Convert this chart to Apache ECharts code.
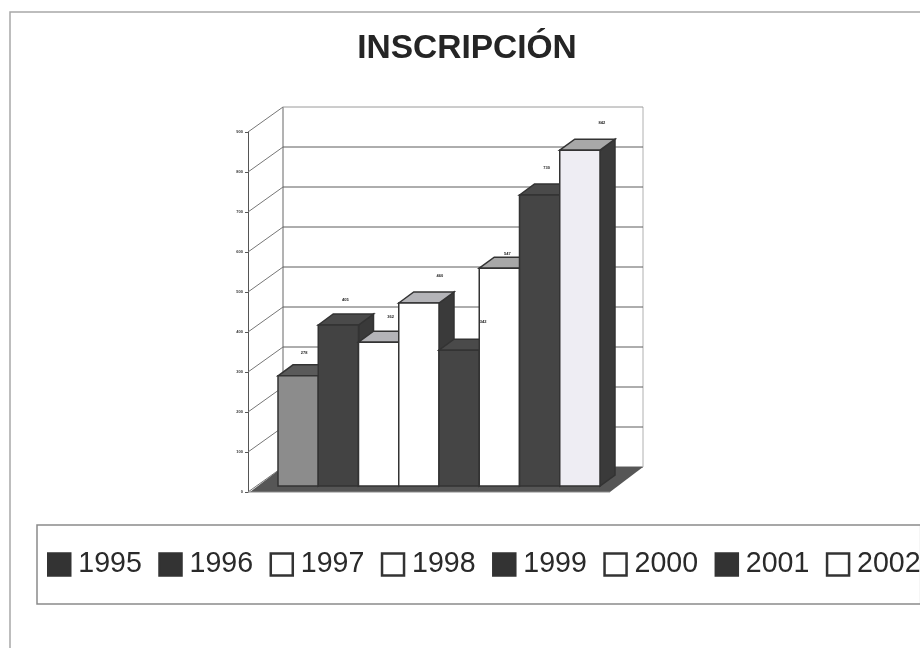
<!DOCTYPE html>
<html>
<head>
<meta charset="utf-8">
<style>html,body{margin:0;padding:0;background:#fff}#c{width:920px;height:648px}</style>
<script src="https://cdn.jsdelivr.net/npm/echarts@6/dist/echarts.min.js"></script>
</head>
<body>
<div id="c"></div>
<script>
const years = ['1995','1996','1997','1998','1999','2000','2001','2002'];
const inscripcion = [278,405,362,460,342,547,730,842];
const yTicks = [0,100,200,300,400,500,600,700,800,900];

const faceColors = ['#8c8c8c','#434343','#ffffff','#ffffff','#454545','#ffffff','#454545','#eeedf3'];
const topColors  = ['#5a5a5a','#4a4a4a','#b4b4b8','#b4b4b8','#4a4a4a','#a8a8a8','#4a4a4a','#a8a8a8'];
const swatchColors = ['#333333','#333333','#ffffff','#ffffff','#333333','#ffffff','#333333','#ffffff'];
const labelNudge = [[6,-23],[7,-25],[12,-25],[21,-27],[24,-28],[8,-14],[7,-27],[22,-27]];

const depth = {dx:15, dy:-11};
const wall = {dx:35, dy:-25, left:30, right:11};
const edge = '#333333';

function renderWall(params, api){
  const cs = params.coordSys;
  const y = api.coord([years[0], api.value(0)])[1];
  const x0 = cs.x - wall.left, x1 = x0 + wall.dx, x2 = cs.x + cs.width + wall.right + wall.dx - 3;
  const line = (a,b,c,d,col) => ({type:'line', shape:{x1:a,y1:b,x2:c,y2:d}, style:{stroke:col||'#5c5c5c', lineWidth:1}, silent:true});
  const kids = [line(x0,y,x1,y+wall.dy,'#777'), line(x1,y+wall.dy,x2,y+wall.dy,api.value(0)===yTicks[yTicks.length-1]?'#9a9a9a':'#5c5c5c')];
  if(api.value(0)===0){
    kids.push(line(x1,y+wall.dy,x1,cs.y+wall.dy,'#666'));
    kids.push(line(x2,y+wall.dy,x2,cs.y+wall.dy,'#b0b0b0'));
    kids.push({type:'polygon', shape:{points:[[x0+2,y],[x1,y+wall.dy],[x2,y+wall.dy],[x2-wall.dx+2,y]]}, style:{fill:'#565656'}, silent:true});
    kids.push(line(x0,y,x2-wall.dx+2,y,'#8a8a8a'));
  }
  return {type:'group', children:kids};
}

function barSeries(i){
  return {
    type:'custom', name:years[i], silent:true, clip:false,
    itemStyle:{color:faceColors[i]},
    encode:{x:0,y:1},
    data:[[years[i], inscripcion[i]]],
    renderItem:function(params, api){
      const w = api.size([1,0])[0];
      const c = api.coord([api.value(0), api.value(1)]);
      const b = api.coord([api.value(0), 0]);
      const x0 = c[0]-w/2, x1 = c[0]+w/2, yt = c[1]-5, yb = b[1]-6;
      const d = depth;
      const st = (fill)=>({fill:fill, stroke:edge, lineWidth:1.5});
      return {type:'group', children:[
        {type:'polygon', shape:{points:[[x1,yt],[x1+d.dx,yt+d.dy],[x1+d.dx,yb+d.dy],[x1,yb]]}, style:st('#3a3a3a')},
        {type:'polygon', shape:{points:[[x0,yt],[x0+d.dx,yt+d.dy],[x1+d.dx,yt+d.dy],[x1,yt]]}, style:st(topColors[i])},
        {type:'rect', shape:{x:x0,y:yt,width:w,height:yb-yt}, style:st(faceColors[i])},
        {type:'text', z2:50, style:{x:c[0]+labelNudge[i][0], y:yt+labelNudge[i][1], text:String(Math.round(api.value(1))), align:'center', verticalAlign:'middle', font:'bold 4px "Liberation Sans"', fill:'#222'}}
      ]};
    }
  };
}

const chart = echarts.init(document.getElementById('c'), null, {renderer:'canvas'});
chart.setOption({
  animation:false,
  backgroundColor:'#ffffff',
  title:{text:'INSCRIPCIÓN', left:467, textAlign:'center', textVerticalAlign:'top', top:32, padding:0,
    textStyle:{fontFamily:'Liberation Sans', fontWeight:'bold', fontSize:33.5, color:'#252525'}},
  graphic:[
    {type:'polyline', shape:{points:[[10,648],[10,12],[920,12]]}, style:{stroke:'#a8a8a8', fill:null, lineWidth:1.5}, silent:true}
  ],
  legend:{
    left:37, top:525, width:1000, padding:[25,0,25,10],
    borderColor:'#8a8a8a', borderWidth:1.5,
    itemWidth:22, itemHeight:22, itemGap:16.4,
    textStyle:{fontFamily:'Liberation Sans', fontSize:28.6, color:'#2a2a2a', padding:[0,0,0,3]},
    data:years.map((y,i)=>({name:y, icon:'rect', itemStyle:{color:swatchColors[i], borderColor:'#333333', borderWidth:2.5}}))
  },
  grid:{left:278, width:322, top:132, height:360, containLabel:false},
  xAxis:{type:'category', data:years, show:false},
  yAxis:{type:'value', min:0, max:900, interval:100, position:'left', offset:30,
    axisLine:{show:true, lineStyle:{color:'#555', width:1}},
    axisTick:{show:true, length:3, lineStyle:{color:'#555'}},
    axisLabel:{fontSize:4, fontWeight:'bold', fontFamily:'Liberation Sans', color:'#333', margin:5},
    splitLine:{show:false}},
  series:[
    {type:'custom', name:'pared', silent:true, clip:false, data:yTicks.map(t=>[t]), encode:{y:0}, renderItem:renderWall}
  ].concat(years.map((y,i)=>barSeries(i)))
});
</script>
</body>
</html>
